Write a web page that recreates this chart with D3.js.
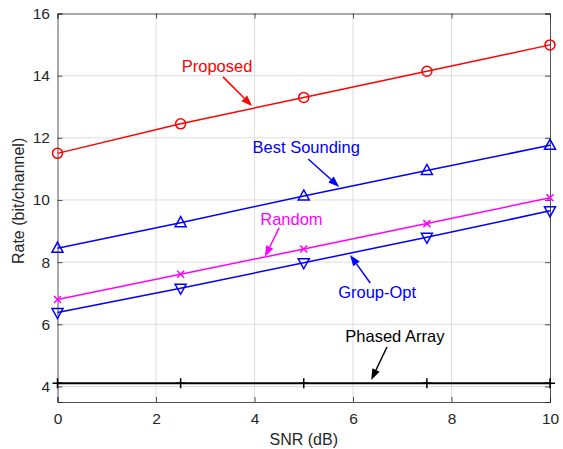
<!DOCTYPE html>
<html>
<head>
<meta charset="utf-8">
<script src="https://cdn.jsdelivr.net/npm/d3@7"></script>
<style>
  body { margin: 0; background: #fff; }
  text { font-family: "Liberation Sans", Arial, sans-serif; }
</style>
</head>
<body>
<svg id="chart"></svg>
<script>
// SNR values (dB)
const snr = [0, 2.5, 5, 7.5, 10];

// Rate values (bit/channel) per scheme
const proposed = [11.5, 12.45, 13.3, 14.14, 14.99];
const bestSounding = [8.45, 9.27, 10.13, 10.95, 11.76];
const random = [6.8, 7.61, 8.42, 9.24, 10.07];
const groupOpt = [6.38, 7.16, 7.98, 8.8, 9.65];
const phasedArray = [4.1, 4.1, 4.1, 4.1, 4.1];

const xTicks = [0, 2, 4, 6, 8, 10];
const yTicks = [4, 6, 8, 10, 12, 14, 16];

// series styling
const series = [
    { name: "Proposed", values: proposed, color: "#ff0000", marker: "circle" },
    { name: "Best Sounding", values: bestSounding, color: "#0000ff", marker: "triUp" },
    { name: "Random", values: random, color: "#ff00ff", marker: "cross" },
    { name: "Group-Opt", values: groupOpt, color: "#0000ff", marker: "triDown" },
    { name: "Phased Array", values: phasedArray, color: "#000000", marker: "plus" }
];

// annotation labels and arrows (data coordinates)
const notes = [
    { text: "Proposed", color: "#ff0000", tx: 3.24, ty: 14.31, x1: 3.36, y1: 13.96, x2: 3.95, y2: 13.02 },
    { text: "Best Sounding", color: "#0000ff", tx: 5.05, ty: 11.7, x1: 5.09, y1: 11.32, x2: 5.72, y2: 10.42 },
    { text: "Random", color: "#ff00ff", tx: 4.75, ty: 9.39, x1: 4.5, y1: 9.1, x2: 4.21, y2: 8.17 },
    { text: "Group-Opt", color: "#0000ff", tx: 6.49, ty: 7.04, x1: 6.35, y1: 7.33, x2: 5.94, y2: 8.23 },
    { text: "Phased Array", color: "#000000", tx: 6.85, ty: 5.62, x1: 6.69, y1: 5.27, x2: 6.37, y2: 4.21 }
];

const width = 563, height = 449;
const margin = { top: 13.5, right: 13, bottom: 47, left: 57.5 };
const fontSize = "16px";

const svg = d3.select("#chart")
    .attr("width", width)
    .attr("height", height);

const x = d3.scaleLinear().domain([0, 10]).range([margin.left, width - margin.right]);
const y = d3.scaleLinear().domain([3.5, 16]).range([height - margin.bottom, margin.top]);

const axisColor = "#262626";

// grid lines
const grid = svg.append("g").attr("stroke", "#dedede").attr("stroke-width", 1);
grid.selectAll(".gx").data(xTicks.slice(1, -1)).join("line")
    .attr("x1", d => x(d)).attr("x2", d => x(d))
    .attr("y1", y.range()[0]).attr("y2", y.range()[1]);
grid.selectAll(".gy").data(yTicks.slice(0, -1)).join("line")
    .attr("y1", d => y(d)).attr("y2", d => y(d))
    .attr("x1", x.range()[0]).attr("x2", x.range()[1]);

// axes with inward ticks
const xAxis = svg.append("g")
    .attr("transform", `translate(0,${y.range()[0]})`)
    .call(d3.axisBottom(x).tickValues(xTicks).tickSize(-5).tickPadding(11).tickFormat(d3.format("d")));
const yAxis = svg.append("g")
    .attr("transform", `translate(${x.range()[0]},0)`)
    .call(d3.axisLeft(y).tickValues(yTicks).tickSize(-5).tickPadding(7.5).tickFormat(d3.format("d")));
const xTop = svg.append("g")
    .attr("transform", `translate(0,${y.range()[1]})`)
    .call(d3.axisTop(x).tickValues(xTicks).tickSize(-5).tickFormat(""));
const yRight = svg.append("g")
    .attr("transform", `translate(${x.range()[1]},0)`)
    .call(d3.axisRight(y).tickValues(yTicks).tickSize(-5).tickFormat(""));

[xAxis, yAxis, xTop, yRight].forEach(g => {
    g.selectAll("path, line").attr("stroke", axisColor).attr("stroke-width", 0.8);
    g.selectAll("text").attr("fill", axisColor).style("font-size", "15.5px")
        .style("font-family", "'Liberation Sans', Arial, sans-serif");
});

// axis titles
svg.append("text")
    .attr("x", x(5)).attr("y", 445)
    .attr("text-anchor", "middle")
    .attr("fill", axisColor).style("font-size", fontSize)
    .text("SNR (dB)");
svg.append("text")
    .attr("transform", `translate(24,${y(9.97)}) rotate(-90)`)
    .attr("text-anchor", "middle")
    .attr("fill", axisColor).style("font-size", fontSize)
    .text("Rate (bit/channel)");

// lines
const line = d3.line().x((d, i) => x(snr[i])).y(d => y(d));

series.forEach(s => {
    const g = svg.append("g");
    g.append("path")
        .datum(s.values)
        .attr("d", line)
        .attr("fill", "none")
        .attr("stroke", s.color)
        .attr("stroke-width", s.marker === "plus" ? 2 : 1.5);

    const m = g.selectAll(".m").data(s.values).join("g")
        .attr("transform", (d, i) => `translate(${x(snr[i])},${y(d)})`)
        .attr("fill", "none").attr("stroke", s.color).attr("stroke-width", 1.5);

    if (s.marker === "circle") {
        m.append("circle").attr("r", 5);
    } else if (s.marker === "triUp") {
        m.append("path").attr("d", "M0,-6L5.5,4L-5.5,4Z");
    } else if (s.marker === "triDown") {
        m.append("path").attr("d", "M0,6L5.5,-4L-5.5,-4Z");
    } else if (s.marker === "cross") {
        m.append("path").attr("d", "M-3.5,-3.5L3.5,3.5M-3.5,3.5L3.5,-3.5");
    } else if (s.marker === "plus") {
        m.append("path").attr("d", "M0,-5L0,5M-5,0L5,0");
    }
});

// annotations
notes.forEach(n => {
    svg.append("text")
        .attr("x", x(n.tx)).attr("y", y(n.ty))
        .attr("dy", "0.35em")
        .attr("text-anchor", "middle")
        .attr("fill", n.color)
        .style("font-size", "16.5px")
        .text(n.text);

    const x1 = x(n.x1), y1 = y(n.y1), x2 = x(n.x2), y2 = y(n.y2);
    const ang = Math.atan2(y2 - y1, x2 - x1);
    const len = 11, half = 4;
    const bx = x2 - len * Math.cos(ang), by = y2 - len * Math.sin(ang);

    svg.append("line")
        .attr("x1", x1).attr("y1", y1).attr("x2", bx).attr("y2", by)
        .attr("stroke", n.color).attr("stroke-width", 1.5);
    svg.append("path")
        .attr("d", `M${x2},${y2}L${bx - half * Math.sin(ang)},${by + half * Math.cos(ang)}L${bx + half * Math.sin(ang)},${by - half * Math.cos(ang)}Z`)
        .attr("fill", n.color);
});
</script>
</body>
</html>
